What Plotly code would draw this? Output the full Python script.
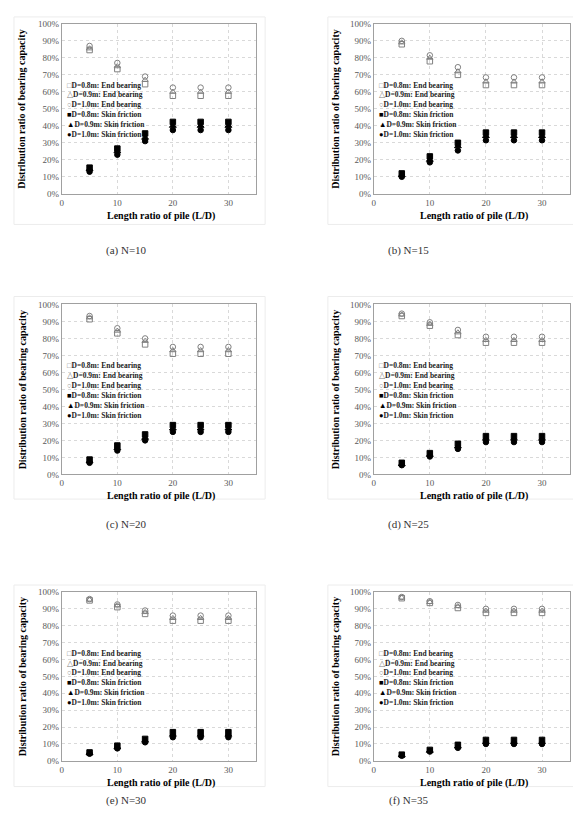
import plotly.graph_objects as go

W, H = 581, 830

L_D = [5, 10, 15, 20, 25, 30]
x_ticks = [0, 10, 20, 30]
y_ticks = [0, 10, 20, 30, 40, 50, 60, 70, 80, 90, 100]
y_tick_labels = ["0%", "10%", "20%", "30%", "40%", "50%", "60%", "70%", "80%", "90%", "100%"]

captions = ["(a) N=10", "(b) N=15", "(c) N=20", "(d) N=25", "(e) N=30", "(f) N=35"]

series_names = ["D=0.8m: End bearing", "D=0.9m: End bearing", "D=1.0m: End bearing",
                "D=0.8m: Skin friction", "D=0.9m: Skin friction", "D=1.0m: Skin friction"]

# Panel (a) N=10
a_end_08 = [84.6, 73.4, 64.5, 57.7, 57.7, 57.7]
a_end_09 = [85.5, 75.0, 67.0, 60.0, 60.0, 60.0]
a_end_10 = [87.0, 77.0, 69.0, 62.5, 62.5, 62.5]
a_skin_08 = [15.4, 26.6, 35.5, 42.3, 42.3, 42.3]
a_skin_09 = [14.5, 25.0, 33.0, 40.0, 40.0, 40.0]
a_skin_10 = [13.0, 23.0, 31.0, 37.5, 37.5, 37.5]

# Panel (b) N=15
b_end_08 = [88.0, 78.0, 70.0, 64.0, 64.0, 64.0]
b_end_09 = [89.0, 80.0, 72.0, 66.0, 66.0, 66.0]
b_end_10 = [90.0, 81.5, 74.5, 68.5, 68.5, 68.5]
b_skin_08 = [12.0, 22.0, 30.0, 36.0, 36.0, 36.0]
b_skin_09 = [11.0, 20.0, 28.0, 34.0, 34.0, 34.0]
b_skin_10 = [10.0, 18.5, 25.5, 31.5, 31.5, 31.5]

# Panel (c) N=20
c_end_08 = [91.3, 83.0, 76.5, 71.0, 71.0, 71.0]
c_end_09 = [92.3, 84.5, 78.5, 73.0, 73.0, 73.0]
c_end_10 = [93.2, 86.0, 80.0, 75.0, 75.0, 75.0]
c_skin_08 = [8.7, 17.0, 23.5, 29.0, 29.0, 29.0]
c_skin_09 = [7.7, 15.5, 21.5, 27.0, 27.0, 27.0]
c_skin_10 = [6.8, 14.0, 20.0, 25.0, 25.0, 25.0]

# Panel (d) N=25
d_end_08 = [93.2, 87.5, 82.0, 77.5, 77.5, 77.5]
d_end_09 = [94.0, 88.5, 83.5, 79.0, 79.0, 79.0]
d_end_10 = [94.6, 89.5, 85.0, 81.0, 81.0, 81.0]
d_skin_08 = [6.8, 12.5, 18.0, 22.5, 22.5, 22.5]
d_skin_09 = [6.0, 11.5, 16.5, 21.0, 21.0, 21.0]
d_skin_10 = [5.4, 10.5, 15.0, 19.0, 19.0, 19.0]

# Panel (e) N=30
e_end_08 = [95.0, 91.0, 87.0, 83.0, 83.0, 83.0]
e_end_09 = [95.4, 92.0, 88.0, 84.5, 84.5, 84.5]
e_end_10 = [95.8, 92.6, 89.0, 86.0, 86.0, 86.0]
e_skin_08 = [5.0, 9.0, 13.0, 17.0, 17.0, 17.0]
e_skin_09 = [4.6, 8.0, 12.0, 15.5, 15.5, 15.5]
e_skin_10 = [4.2, 7.4, 11.0, 14.0, 14.0, 14.0]

# Panel (f) N=35
f_end_08 = [96.3, 93.5, 90.5, 87.6, 87.6, 87.6]
f_end_09 = [96.6, 94.0, 91.5, 88.8, 88.8, 88.8]
f_end_10 = [97.0, 94.5, 92.3, 90.0, 90.0, 90.0]
f_skin_08 = [3.7, 6.5, 9.5, 12.4, 12.4, 12.4]
f_skin_09 = [3.4, 6.0, 8.5, 11.2, 11.2, 11.2]
f_skin_10 = [3.0, 5.5, 7.7, 10.0, 10.0, 10.0]

panels = [
    [a_end_08, a_end_09, a_end_10, a_skin_08, a_skin_09, a_skin_10],
    [b_end_08, b_end_09, b_end_10, b_skin_08, b_skin_09, b_skin_10],
    [c_end_08, c_end_09, c_end_10, c_skin_08, c_skin_09, c_skin_10],
    [d_end_08, d_end_09, d_end_10, d_skin_08, d_skin_09, d_skin_10],
    [e_end_08, e_end_09, e_end_10, e_skin_08, e_skin_09, e_skin_10],
    [f_end_08, f_end_09, f_end_10, f_skin_08, f_skin_09, f_skin_10],
]

# styles
GRAY = "#808080"
symbols = ["square-open", "triangle-up-open", "circle-open", "square", "triangle-up", "circle"]
colors = [GRAY, GRAY, GRAY, "black", "black", "black"]
sizes = [5.5, 5.5, 5.5, 5.5, 6, 5.5]
legend_glyphs = ["□", "△", "○", "■", "▲", "●"]
SERIF = "Liberation Serif"

# geometry in pixels
col_x = [(52, 247), (365, 562)]
row_y = [(11, 183), (295, 467), (586, 757)]
panel_box_x = [(4, 256), (319, 570)]
panel_box_y = [(4, 214), (287, 492), (579, 783)]
ytitle_x = [12, 327]
caption_x = [117, 400]
caption_y = [240, 518, 797]

def px_x(p):
    return p / W

def px_y(p):
    return 1 - p / H

fig = go.Figure()
layout = dict(width=W, height=H, margin=dict(l=0, r=0, t=0, b=0),
              paper_bgcolor="white", plot_bgcolor="white", showlegend=False)
annotations = []
shapes = []

for i, vals in enumerate(panels):
    r, c = divmod(i, 2)
    k = "" if i == 0 else str(i + 1)
    xa, ya = "x" + k, "y" + k
    x0, x1 = col_x[c]
    yt, yb = row_y[r]
    layout["xaxis" + k] = dict(
        domain=[px_x(x0), px_x(x1)], range=[0, 35], tickvals=x_ticks,
        showgrid=True, gridcolor="#d9d9d9", griddash="dot", gridwidth=1,
        showline=True, linecolor="#a0a0a0", linewidth=1, mirror=True,
        zeroline=False, ticks="", anchor=ya,
        tickfont=dict(family=SERIF, size=9, color="#595959"))
    layout["yaxis" + k] = dict(
        domain=[px_y(yb), px_y(yt)], range=[0, 100], tickvals=y_ticks,
        ticktext=y_tick_labels, showgrid=True, gridcolor="#d9d9d9", griddash="dot",
        gridwidth=1, showline=True, linecolor="#a0a0a0", linewidth=1,
        mirror=True, zeroline=False, ticks="", anchor=xa,
        tickfont=dict(family=SERIF, size=9, color="#595959"))
    for s in range(6):
        fig.add_trace(go.Scatter(
            x=L_D, y=vals[s], mode="markers", name=series_names[s],
            xaxis=xa, yaxis=ya,
            marker=dict(symbol=symbols[s], size=sizes[s],
                        color=colors[s],
                        line=dict(color=colors[s], width=1))))
    # panel frame
    bx0, bx1 = panel_box_x[c]
    by0, by1 = panel_box_y[r]
    shapes.append(dict(type="rect", xref="paper", yref="paper",
                       x0=px_x(bx0), x1=px_x(bx1), y0=px_y(by1), y1=px_y(by0),
                       line=dict(color="#ececec", width=1), layer="below"))
    # legend entries
    for s in range(6):
        gcol = GRAY if s < 3 else "black"
        annotations.append(dict(
            xref="paper", yref="paper", x=px_x(x0 + 3), y=px_y(yt + 62 + 10 * s),
            xanchor="left", yanchor="middle", showarrow=False,
            text=f'<span style="color:{gcol}">{legend_glyphs[s]}</span><b>{series_names[s]}</b>',
            font=dict(family=SERIF, size=7.5, color="#222222")))
    # axis titles
    annotations.append(dict(
        xref="paper", yref="paper", x=px_x(ytitle_x[c]), y=px_y((yt + yb) / 2),
        xanchor="center", yanchor="middle", showarrow=False, textangle=-90,
        text="<b>Distribution ratio of bearing capacity</b>",
        font=dict(family=SERIF, size=10, color="black")))
    annotations.append(dict(
        xref="paper", yref="paper", x=px_x((x0 + x1) / 2 + 2), y=px_y(yb + 22),
        xanchor="center", yanchor="middle", showarrow=False,
        text="<b>Length ratio of pile (L/D)</b>",
        font=dict(family=SERIF, size=10, color="black")))
    # caption
    annotations.append(dict(
        xref="paper", yref="paper", x=px_x(caption_x[c]), y=px_y(caption_y[r]),
        xanchor="center", yanchor="middle", showarrow=False,
        text=captions[i], font=dict(family=SERIF, size=11, color="#333333")))

layout["annotations"] = annotations
layout["shapes"] = shapes
fig.update_layout(**layout)
fig.write_html("out.html")
